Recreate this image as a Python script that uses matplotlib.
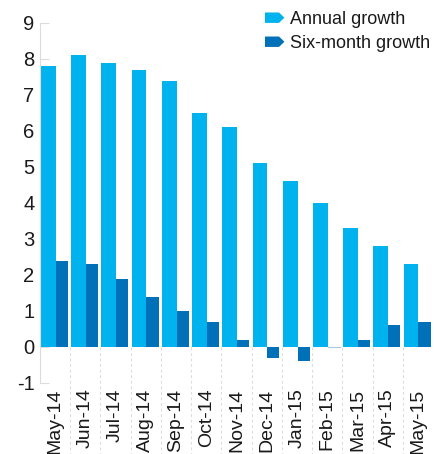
import matplotlib
matplotlib.use("Agg")
import matplotlib.pyplot as plt
import matplotlib.patches as mpatches
from matplotlib.legend_handler import HandlerPatch
from matplotlib.lines import Line2D
import numpy as np

plt.rcParams['font.family'] = ['Liberation Sans', 'DejaVu Sans']

months = ["May-14", "Jun-14", "Jul-14", "Aug-14", "Sep-14", "Oct-14", "Nov-14",
          "Dec-14", "Jan-15", "Feb-15", "Mar-15", "Apr-15", "May-15"]
annual_growth = [7.8, 8.1, 7.9, 7.7, 7.4, 6.5, 6.1, 5.1, 4.6, 4.0, 3.3, 2.8, 2.3]
six_month_growth = [2.4, 2.3, 1.9, 1.4, 1.0, 0.7, 0.2, -0.3, -0.4, 0.0, 0.2, 0.6, 0.7]
yticks = [-1, 0, 1, 2, 3, 4, 5, 6, 7, 8, 9]

c_annual = "#00b2ee"
c_six = "#0071b9"
text_c = "#1a1a1a"
grid_c = "#dcdcdc"

fig = plt.figure(figsize=(4.34, 4.54), dpi=100)
ax = fig.add_axes([40/434, 71/454, 393/434, 360/454])

x = np.arange(len(months))
ax.bar(x + 0.03, annual_growth, width=0.49, align='edge', color=c_annual, linewidth=0, zorder=2)
ax.bar(x + 0.52, six_month_growth, width=0.40, align='edge', color=c_six, linewidth=0, zorder=2)
# zero-value marker line (Feb-15)
for i, v in enumerate(six_month_growth):
    if v == 0:
        ax.plot([i + 0.52, i + 0.92], [0, 0], color="#a8c8dc", lw=0.8, zorder=3)

ax.set_xlim(0, len(months))
ax.set_ylim(-1, 9)
ax.set_yticks(yticks)
ax.set_yticklabels([str(t) for t in yticks])
ax.set_xticks(x + 0.5)
ax.set_xticklabels(months, rotation=90, va='top', ha='center')

for s in ['top', 'right', 'bottom']:
    ax.spines[s].set_visible(False)
ax.spines['left'].set_color(grid_c)
ax.spines['left'].set_linewidth(0.8)

ax.tick_params(axis='y', direction='in', length=6.5, width=0.8, color=grid_c,
               labelsize=14.5, labelcolor=text_c, pad=4)
ax.tick_params(axis='x', length=0, labelsize=14, labelcolor=text_c, pad=4)

# dashed category separators below zero
for b in range(1, len(months)):
    ax.add_line(Line2D([b, b], [0, -3.0], color=grid_c, lw=0.8,
                       linestyle=(0, (2.5, 2.5)), clip_on=False, zorder=1))


class HandlerArrow(HandlerPatch):
    def create_artists(self, legend, orig_handle, xdescent, ydescent, width, height, fontsize, trans):
        w, h = 14, 7.5
        x0 = -xdescent
        y0 = -ydescent + (height - h) / 2
        pts = [(x0, y0), (x0 + w * 0.72, y0), (x0 + w, y0 + h / 2),
               (x0 + w * 0.72, y0 + h), (x0, y0 + h)]
        p = mpatches.Polygon(pts, closed=True, facecolor=orig_handle.get_facecolor(),
                             edgecolor='none', transform=trans)
        return [p]


h1 = mpatches.Patch(color=c_annual, label="Annual growth")
h2 = mpatches.Patch(color=c_six, label="Six-month growth")
leg = fig.legend(handles=[h1, h2], loc='upper left', bbox_to_anchor=(265/434, 1 - 11/454),
                 frameon=False, fontsize=13, handlelength=14/13, handleheight=0.7,
                 handletextpad=0.33, labelspacing=0.39, borderpad=0, borderaxespad=0,
                 handler_map={mpatches.Patch: HandlerArrow()})
for t in leg.get_texts():
    t.set_color(text_c)

fig.savefig("out.png", dpi=100)
